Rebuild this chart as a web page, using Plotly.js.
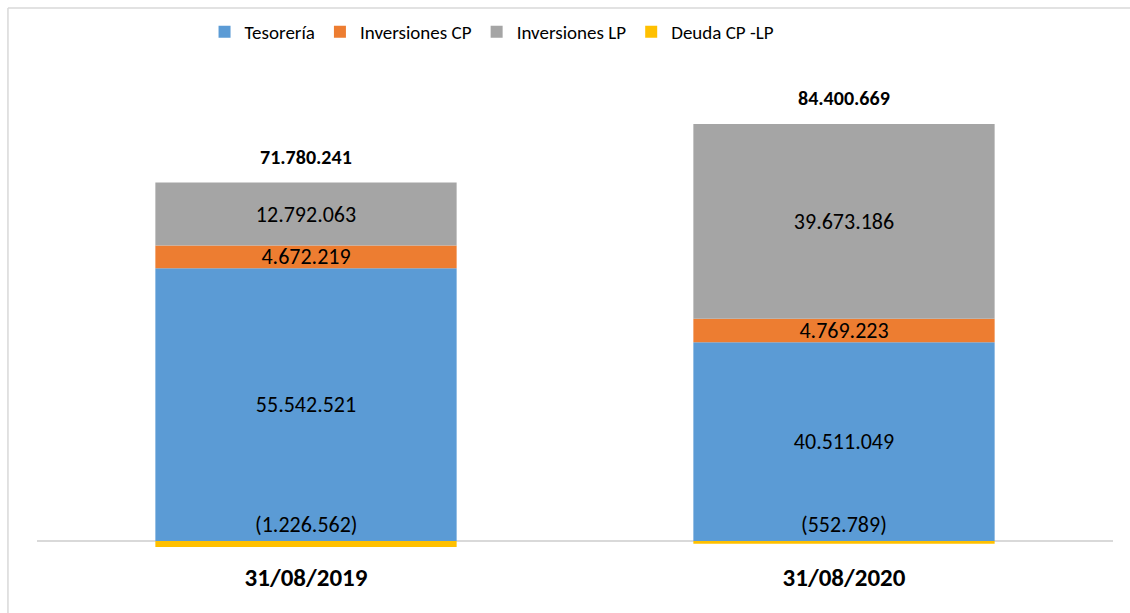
<!DOCTYPE html>
<html>
<head>
<meta charset="utf-8">
<script src="https://cdn.plot.ly/plotly-3.0.1.min.js"></script>
<style>
html,body{margin:0;padding:0;background:#fff;}
#chart{width:1130px;height:613px;}
</style>
</head>
<body>
<div id="chart"></div>
<script>
const categories = ['31/08/2019', '31/08/2020'];
const tesoreria = [55542521, 40511049];
const inversionesCP = [4672219, 4769223];
const inversionesLP = [12792063, 39673186];
const deuda = [-1226562, -552789];
const seriesNames = ['Tesorería', 'Inversiones CP', 'Inversiones LP', 'Deuda CP -LP'];
const colors = ['#5B9BD5', '#ED7D31', '#A5A5A5', '#FFC000'];

const FONT = 'Carlito, Calibri, Lato, sans-serif';

function fmt(v) {
  const s = Math.abs(Math.round(v)).toString().replace(/\B(?=(\d{3})+(?!\d))/g, '.');
  return v < 0 ? '(' + s + ')' : s;
}

const seriesVals = [tesoreria, inversionesCP, inversionesLP, deuda];
const traces = seriesVals.map((vals, i) => ({
  type: 'bar',
  name: seriesNames[i],
  x: categories,
  y: vals,
  marker: {color: colors[i]},
  text: i < 3 ? vals.map(fmt) : null,
  textposition: i < 3 ? 'inside' : 'none',
  insidetextanchor: 'middle',
  textangle: 0,
  constraintext: 'none',
  textfont: {family: FONT, size: 22, color: '#000'},
  hoverinfo: 'skip'
}));

const posTop = categories.map((c, i) => tesoreria[i] + inversionesCP[i] + inversionesLP[i]);
const totals = categories.map((c, i) => tesoreria[i] + inversionesCP[i] + inversionesLP[i] + deuda[i]);

const annotations = [];
categories.forEach((c, i) => {
  annotations.push({
    x: c, y: posTop[i], xref: 'x', yref: 'y',
    text: '<b>' + fmt(totals[i]) + '</b>',
    showarrow: false, yanchor: 'bottom', yshift: 12,
    font: {family: FONT, size: 20, color: '#000'}
  });
  annotations.push({
    x: c, y: 0, xref: 'x', yref: 'y',
    text: fmt(deuda[i]),
    showarrow: false, yanchor: 'bottom', yshift: 1,
    font: {family: FONT, size: 22, color: '#000'}
  });
});

const layout = {
  width: 1130, height: 613,
  margin: {l: 37, r: 17, t: 60, b: 60},
  paper_bgcolor: '#fff', plot_bgcolor: '#fff',
  barmode: 'relative',
  bargap: 0.44,
  font: {family: FONT, color: '#000'},
  showlegend: true,
  legend: {
    orientation: 'h', x: 0.4229, xanchor: 'center', y: 1.057, yanchor: 'middle',
    font: {family: FONT, size: 19, color: '#000'},
    traceorder: 'normal', itemclick: false
  },
  xaxis: {
    type: 'category',
    showgrid: false, showline: false, zeroline: false,
    ticks: '', ticklabelstandoff: 7,
    tickfont: {family: FONT, size: 25, color: '#000', weight: 'bold'}
  },
  yaxis: {
    range: [-2.44e6, 97.98e6],
    showgrid: false, showline: false, showticklabels: false, ticks: '',
    zeroline: true, zerolinecolor: '#d9d9d9', zerolinewidth: 1.5
  },
  annotations: annotations,
  shapes: [
    {type: 'line', xref: 'paper', yref: 'paper', x0: -0.027, x1: -0.027, y0: -0.13, y1: 1.1055, line: {color: '#d9d9d9', width: 1.5}},
    {type: 'line', xref: 'paper', yref: 'paper', x0: -0.027, x1: 1.02, y0: 1.1055, y1: 1.1055, line: {color: '#d9d9d9', width: 1.5}}
  ]
};

Plotly.newPlot('chart', traces, layout, {displayModeBar: false, staticPlot: true});
</script>
</body>
</html>
